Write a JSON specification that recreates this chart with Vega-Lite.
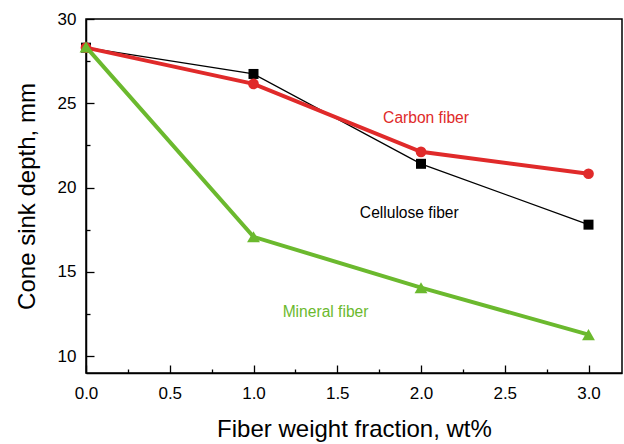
{
  "$schema": "https://vega.github.io/schema/vega-lite/v6.json",
  "autosize": {"type": "none"},
  "padding": {"left": 86, "top": 19, "right": 2, "bottom": 71},
  "width": 536,
  "height": 354,
  "background": "white",
  "config": {
    "font": "Liberation Sans",
    "view": {"stroke": "black", "strokeWidth": 1.5},
    "axis": {
      "domainColor": "black", "domainWidth": 1.5, "tickColor": "black", "tickWidth": 1.3,
      "labelColor": "black", "titleColor": "black", "labelFont": "Liberation Sans", "titleFont": "Liberation Sans",
      "labelFontSize": 17, "titleFontSize": 24, "titleFontWeight": "normal", "grid": false, "labelFlush": false,
      "tickSize": -8
    }
  },
  "datasets": {
    "pts": [
      {"wt": 0, "depth": 28.3, "series": "Cellulose fiber"},
      {"wt": 1, "depth": 26.74, "series": "Cellulose fiber"},
      {"wt": 2, "depth": 21.41, "series": "Cellulose fiber"},
      {"wt": 3, "depth": 17.8, "series": "Cellulose fiber"},
      {"wt": 0, "depth": 28.3, "series": "Carbon fiber"},
      {"wt": 1, "depth": 26.15, "series": "Carbon fiber"},
      {"wt": 2, "depth": 22.12, "series": "Carbon fiber"},
      {"wt": 3, "depth": 20.82, "series": "Carbon fiber"},
      {"wt": 0, "depth": 28.35, "series": "Mineral fiber"},
      {"wt": 1, "depth": 17.08, "series": "Mineral fiber"},
      {"wt": 2, "depth": 14.06, "series": "Mineral fiber"},
      {"wt": 3, "depth": 11.28, "series": "Mineral fiber"}
    ],
    "labels": [
      {"wt": 2.03, "depth": 24.13, "series": "Carbon fiber"},
      {"wt": 1.93, "depth": 18.5, "series": "Cellulose fiber"},
      {"wt": 1.43, "depth": 12.64, "series": "Mineral fiber"}
    ]
  },
  "encoding": {
    "x": {"field": "wt", "type": "quantitative",
      "scale": {"domain": [0, 3.2], "nice": false, "zero": false},
      "axis": {"title": "Fiber weight fraction, wt%", "values": [0,0.25,0.5,0.75,1,1.25,1.5,1.75,2,2.25,2.5,2.75,3],
        "labelExpr": "datum.value % 0.5 === 0 ? format(datum.value, '.1f') : ''",
        "tickDash": {"condition": {"test": "datum.value % 0.5 !== 0", "value": [4, 4]}, "value": [10, 0]},
        "labelPadding": 20, "titlePadding": 16}},
    "y": {"field": "depth", "type": "quantitative",
      "scale": {"domain": [9, 30], "nice": false, "zero": false},
      "axis": {"title": "Cone sink depth, mm", "values": [10,12.5,15,17.5,20,22.5,25,27.5,30],
        "labelExpr": "datum.value % 5 === 0 ? format(datum.value, 'd') : ''",
        "tickDash": {"condition": {"test": "datum.value % 5 !== 0", "value": [4, 4]}, "value": [10, 0]},
        "labelPadding": 18, "titlePadding": 18}},
    "color": {"field": "series", "type": "nominal",
      "scale": {"domain": ["Carbon fiber", "Cellulose fiber", "Mineral fiber"], "range": ["#e02a2a", "#000000", "#6bb92e"]},
      "legend": null}
  },
  "layer": [
    {"data": {"name": "pts"}, "transform": [{"filter": "datum.series === 'Cellulose fiber'"}],
      "mark": {"type": "line", "strokeWidth": 1.3}},
    {"data": {"name": "pts"}, "transform": [{"filter": "datum.series === 'Cellulose fiber'"}],
      "mark": {"type": "point", "shape": "square", "filled": true, "opacity": 1, "size": 100}},
    {"data": {"name": "pts"}, "transform": [{"filter": "datum.series === 'Carbon fiber'"}],
      "mark": {"type": "line", "strokeWidth": 4}},
    {"data": {"name": "pts"}, "transform": [{"filter": "datum.series === 'Carbon fiber'"}],
      "mark": {"type": "point", "shape": "circle", "filled": true, "opacity": 1, "size": 115}},
    {"data": {"name": "pts"}, "transform": [{"filter": "datum.series === 'Mineral fiber'"}],
      "mark": {"type": "line", "strokeWidth": 4}},
    {"data": {"name": "pts"}, "transform": [{"filter": "datum.series === 'Mineral fiber'"}],
      "mark": {"type": "point", "shape": "triangle-up", "filled": true, "opacity": 1, "size": 165}},
    {"data": {"name": "labels"},
      "mark": {"type": "text", "fontSize": 15.6, "font": "Liberation Sans", "align": "center", "baseline": "middle"},
      "encoding": {"text": {"field": "series"}}}
  ]
}
